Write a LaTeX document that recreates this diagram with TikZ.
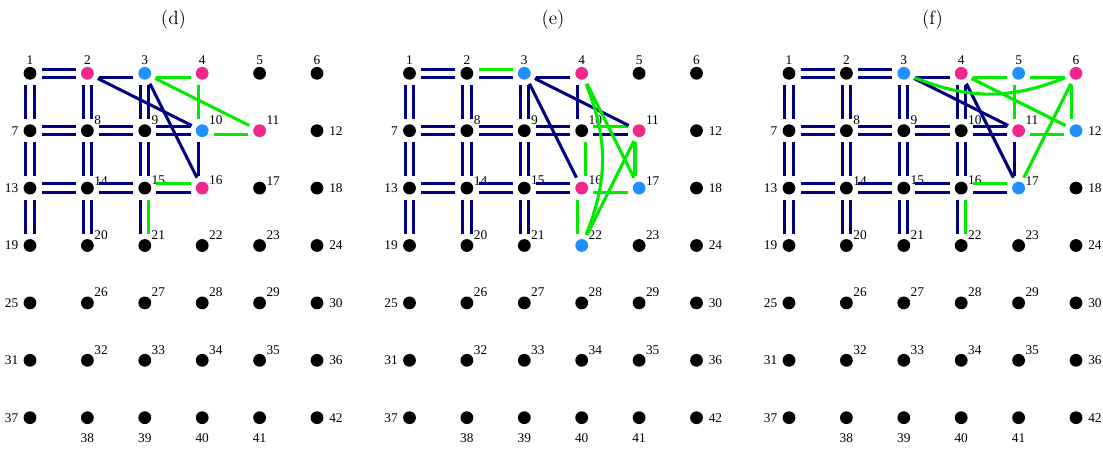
\documentclass[tikz,border=0pt]{standalone}
\usepackage{fontspec}
\newfontfamily\numfont{Liberation Serif}
\usetikzlibrary{calc}
\definecolor{linknavy}{RGB}{0,0,128}
\definecolor{linkgreen}{RGB}{0,235,0}
\definecolor{dotpink}{RGB}{240,40,140}
\definecolor{dotblue}{RGB}{30,144,255}
\tikzstyle{site} = [
    circle,
    fill=black,
    inner sep=0pt,
    minimum size=9.6pt,
    outer sep=3.9pt
]
\tikzstyle{num} = [
    font=\numfont\fontsize{10}{12}\selectfont,
    inner sep=0pt
]
\tikzstyle{title} = [
    font=\Large
]
\tikzstyle{nv} = [
    draw=linknavy,
    line width=2.3pt
]
\tikzstyle{gr} = [
    draw=linkgreen,
    line width=2.3pt
]
\tikzstyle{up} = [transform canvas={yshift=3.1pt}]
\tikzstyle{dn} = [transform canvas={yshift=-3.1pt}]
\tikzstyle{lf} = [transform canvas={xshift=-3.1pt}]
\tikzstyle{rt} = [transform canvas={xshift=3.1pt}]
% coloured sites
\pgfkeys{/dotcol/.cd,
    d2/.initial=dotpink, d4/.initial=dotpink, d11/.initial=dotpink, d16/.initial=dotpink,
    d3/.initial=dotblue, d10/.initial=dotblue,
    e4/.initial=dotpink, e11/.initial=dotpink, e16/.initial=dotpink,
    e3/.initial=dotblue, e17/.initial=dotblue, e22/.initial=dotblue,
    f4/.initial=dotpink, f6/.initial=dotpink, f11/.initial=dotpink,
    f3/.initial=dotblue, f5/.initial=dotblue, f12/.initial=dotblue, f17/.initial=dotblue
}

\begin{document}
\begin{tikzpicture}[x=0.75pt, y=-0.75pt]
    \useasboundingbox (0,0) rectangle (1103,449);

    % Panel titles
    \node[title] (td) at (173.5,20) {(d)};
    \node[title] (te) at (553,20) {(e)};
    \node[title] (tf) at (932.5,20) {(f)};

    % Sites of the three lattices, with their numbers
    \foreach \p/\ox in {d/30,e/409.5,f/789} {
        \foreach \n in {1,...,42} {
            \pgfmathtruncatemacro\ro{(\n-1)/6}
            \pgfmathtruncatemacro\co{\n-1-6*\ro}
            \pgfkeysifdefined{/dotcol/\p\n}{\pgfkeysgetvalue{/dotcol/\p\n}{\col}}{\def\col{black}}
            \def\la{west}\def\lx{5pt}\def\ly{7.9pt}
            \ifnum\ro=2 \def\ly{5.6pt}\fi
            \ifnum\ro=0 \def\la{center}\def\lx{0pt}\def\ly{9.6pt}\else
                \ifnum\co=0 \def\la{east}\def\lx{-8.6pt}\def\ly{0pt}\else
                    \ifnum\co=5 \def\la{west}\def\lx{9pt}\def\ly{0pt}\else
                        \ifnum\ro=6 \def\la{center}\def\lx{0pt}\def\ly{-15.5pt}\fi
                    \fi
                \fi
            \fi
            \node[site, fill=\col] (\p\n) at ({\ox+57.4*\co}, {73.3+57.4*\ro}) {};
            \node[num, anchor=\la] (\p\n n) at ([xshift=\lx, yshift=\ly]\p\n.center) {\n};
        }
    }

    % (d) links
    \foreach \a/\b in {1/2,7/8,8/9,9/10,13/14,14/15} {
        \draw[nv, up] (d\a) -- (d\b);
        \draw[nv, dn] (d\a) -- (d\b);
    }
    \foreach \a/\b in {1/7,2/8,3/9,7/13,8/14,9/15,13/19,14/20} {
        \draw[nv, lf] (d\a) -- (d\b);
        \draw[nv, rt] (d\a) -- (d\b);
    }
    \draw[nv, dn] (d2) -- (d3);
    \draw[gr, dn] (d3) -- (d4);
    \draw[gr, lf] (d4) -- (d10);
    \draw[gr, dn] (d10) -- (d11);
    \draw[nv, lf] (d10) -- (d16);
    \draw[gr, up] (d15) -- (d16);
    \draw[nv, dn] (d15) -- (d16);
    \draw[nv, lf] (d15) -- (d21);
    \draw[gr, rt] (d15) -- (d21);
    \draw[nv] (d2) -- (d10);
    \draw[nv] (d3) -- (d16);
    \draw[gr] (d3) -- (d11);

    % (e) links
    \foreach \a/\b in {1/2,7/8,8/9,9/10,13/14,14/15,15/16} {
        \draw[nv, up] (e\a) -- (e\b);
        \draw[nv, dn] (e\a) -- (e\b);
    }
    \foreach \a/\b in {1/7,2/8,3/9,7/13,8/14,9/15,13/19,14/20,15/21} {
        \draw[nv, lf] (e\a) -- (e\b);
        \draw[nv, rt] (e\a) -- (e\b);
    }
    \draw[gr, up] (e2) -- (e3);
    \draw[nv, dn] (e2) -- (e3);
    \draw[nv, dn] (e3) -- (e4);
    \draw[nv, lf] (e4) -- (e10);
    \draw[gr, up] (e10) -- (e11);
    \draw[nv, dn] (e10) -- (e11);
    \draw[gr, rt] (e10) -- (e16);
    \draw[gr, lf] (e16) -- (e22);
    \draw[gr, dn] (e16) -- (e17);
    \draw[gr, lf] (e11) -- (e17);
    \draw[nv] (e3) -- (e11);
    \draw[nv] (e3) -- (e16);
    \draw[gr] (e4) -- (e17);
    \draw[gr] (e22) -- (e11);
    \draw[gr] (e4) to[bend left=22] (e22);

    % (f) links
    \foreach \a/\b in {1/2,2/3,7/8,8/9,9/10,10/11,13/14,14/15,15/16} {
        \draw[nv, up] (f\a) -- (f\b);
        \draw[nv, dn] (f\a) -- (f\b);
    }
    \foreach \a/\b in {1/7,2/8,3/9,4/10,7/13,8/14,9/15,10/16,13/19,14/20,15/21} {
        \draw[nv, lf] (f\a) -- (f\b);
        \draw[nv, rt] (f\a) -- (f\b);
    }
    \draw[nv, dn] (f3) -- (f4);
    \draw[gr, dn] (f4) -- (f5);
    \draw[gr, dn] (f5) -- (f6);
    \draw[gr, lf] (f5) -- (f11);
    \draw[gr, lf] (f6) -- (f12);
    \draw[gr, dn] (f11) -- (f12);
    \draw[nv, lf] (f11) -- (f17);
    \draw[gr, up] (f16) -- (f17);
    \draw[nv, dn] (f16) -- (f17);
    \draw[nv, lf] (f16) -- (f22);
    \draw[gr, rt] (f16) -- (f22);
    \draw[nv] (f3) -- (f11);
    \draw[nv] (f4) -- (f17);
    \draw[gr] (f4) -- (f12);
    \draw[gr] (f6) -- (f17);
    \draw[gr] (f3) to[bend right=22] (f6);
\end{tikzpicture}
\end{document}
